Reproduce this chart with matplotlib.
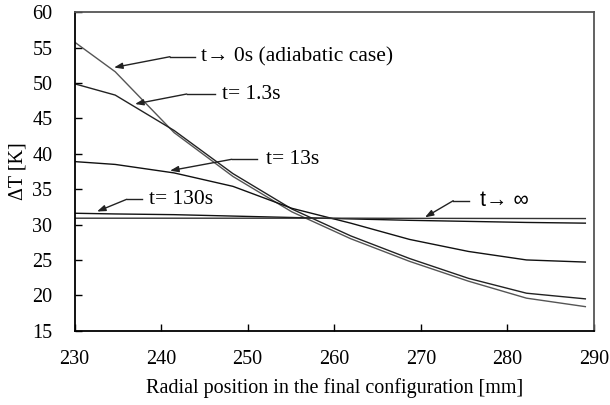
import matplotlib
matplotlib.use("Agg")
import matplotlib.pyplot as plt

plt.rcParams['font.family'] = ['Liberation Serif', 'DejaVu Serif']

# Radial node positions [mm]
x = [230, 234.7, 241.5, 248.3, 255.1, 261.9, 268.7, 275.5, 282.2, 289]

# Temperature rise Delta T [K]
t_adiabatic = [55.8, 51.6, 43.0, 36.8, 31.8, 28.0, 24.8, 22.0, 19.6, 18.4]
t_1_3s = [49.9, 48.3, 43.3, 37.2, 32.2, 28.4, 25.2, 22.4, 20.3, 19.5]
t_13s = [38.9, 38.5, 37.3, 35.4, 32.3, 30.2, 27.9, 26.2, 25.0, 24.7]
t_130s = [31.6, 31.5, 31.4, 31.2, 31.0, 30.8, 30.6, 30.45, 30.3, 30.2]
t_inf = [30.9, 30.9, 30.9, 30.9, 30.9, 30.9, 30.88, 30.87, 30.86, 30.85]

xticks = [230, 240, 250, 260, 270, 280, 290]
yticks = [15, 20, 25, 30, 35, 40, 45, 50, 55, 60]

fig = plt.figure(figsize=(6.10, 4.05), dpi=100)
ax = fig.add_axes([74.5 / 610, 1 - 330.7 / 405, (594 - 74.5) / 610, (330.7 - 12.3) / 405])

for ys, col in [(t_adiabatic, '#555555'), (t_1_3s, '#222222'), (t_13s, '#111111'),
                (t_130s, '#111111'), (t_inf, '#333333')]:
    ax.plot(x, ys, color=col, lw=1.0)

ax.set_xlim(230, 290)
ax.set_ylim(15, 60)
ax.set_xticks(xticks)
ax.set_yticks(yticks)
ax.tick_params(direction='in', length=5, width=1, labelsize=14.5, colors='black')
ax.tick_params(axis='x', pad=14)
ax.tick_params(axis='y', pad=16)
for s in ['left', 'bottom']:
    ax.spines[s].set_linewidth(1.3)
    ax.spines[s].set_color('black')
for s in ['top', 'right']:
    ax.spines[s].set_linewidth(1.3)
    ax.spines[s].set_color('#555555')

ax.set_xlabel('Radial position in the final configuration [mm]', fontsize=14.5)
ax.set_ylabel('ΔT [K]', fontsize=14.5)
ax.xaxis.set_label_coords(0.5, (330.7 - 378) / 318.4)
ax.yaxis.set_label_coords((28 - 74.5) / 519.5, 0.5)


def px(xp, yp):
    return (230 + (xp - 74.5) / 8.66, 60 - (yp - 12.3) / 7.075)


annots = [
    # text, tip(px), corner(px), line end(px), text start(px), family
    ('t→ 0s (adiabatic case)', (114, 67.5), (170, 56.7), (195, 56.7), (201, 56.7), 'serif'),
    ('t= 1.3s', (135, 104), (186.7, 94), (215, 94), (222, 94), 'serif'),
    ('t= 13s', (170, 170.7), (231.7, 159.3), (256.7, 159.3), (266, 159.3), 'serif'),
    ('t= 130s', (97, 211.5), (126.7, 199.3), (141.7, 199.3), (149, 199.3), 'serif'),
    ('t→ ∞', (425, 217.3), (453.3, 200.7), (469.3, 200.7), (480, 200.7), 'sans'),
]
for txt, tip, corner, lend, tstart, fam in annots:
    tx, ty = px(*tip)
    cx, cy = px(*corner)
    ex, ey = px(*lend)
    sx, sy = px(*tstart)
    ax.plot([cx, ex], [cy, ey], color='#222222', lw=1.0)
    ax.annotate('', xy=(tx, ty), xytext=(cx, cy),
                arrowprops=dict(arrowstyle='-|>,head_length=0.5,head_width=0.18',
                                color='#222222', lw=1.0, shrinkA=0, shrinkB=0))
    if fam == 'sans':
        ax.text(sx, sy, txt, fontsize=15.5, va='center', ha='left',
                family=['Liberation Sans', 'DejaVu Sans'])
    else:
        ax.text(sx, sy, txt, fontsize=15.5, va='center', ha='left')

fig.savefig('out.png', dpi=100)
